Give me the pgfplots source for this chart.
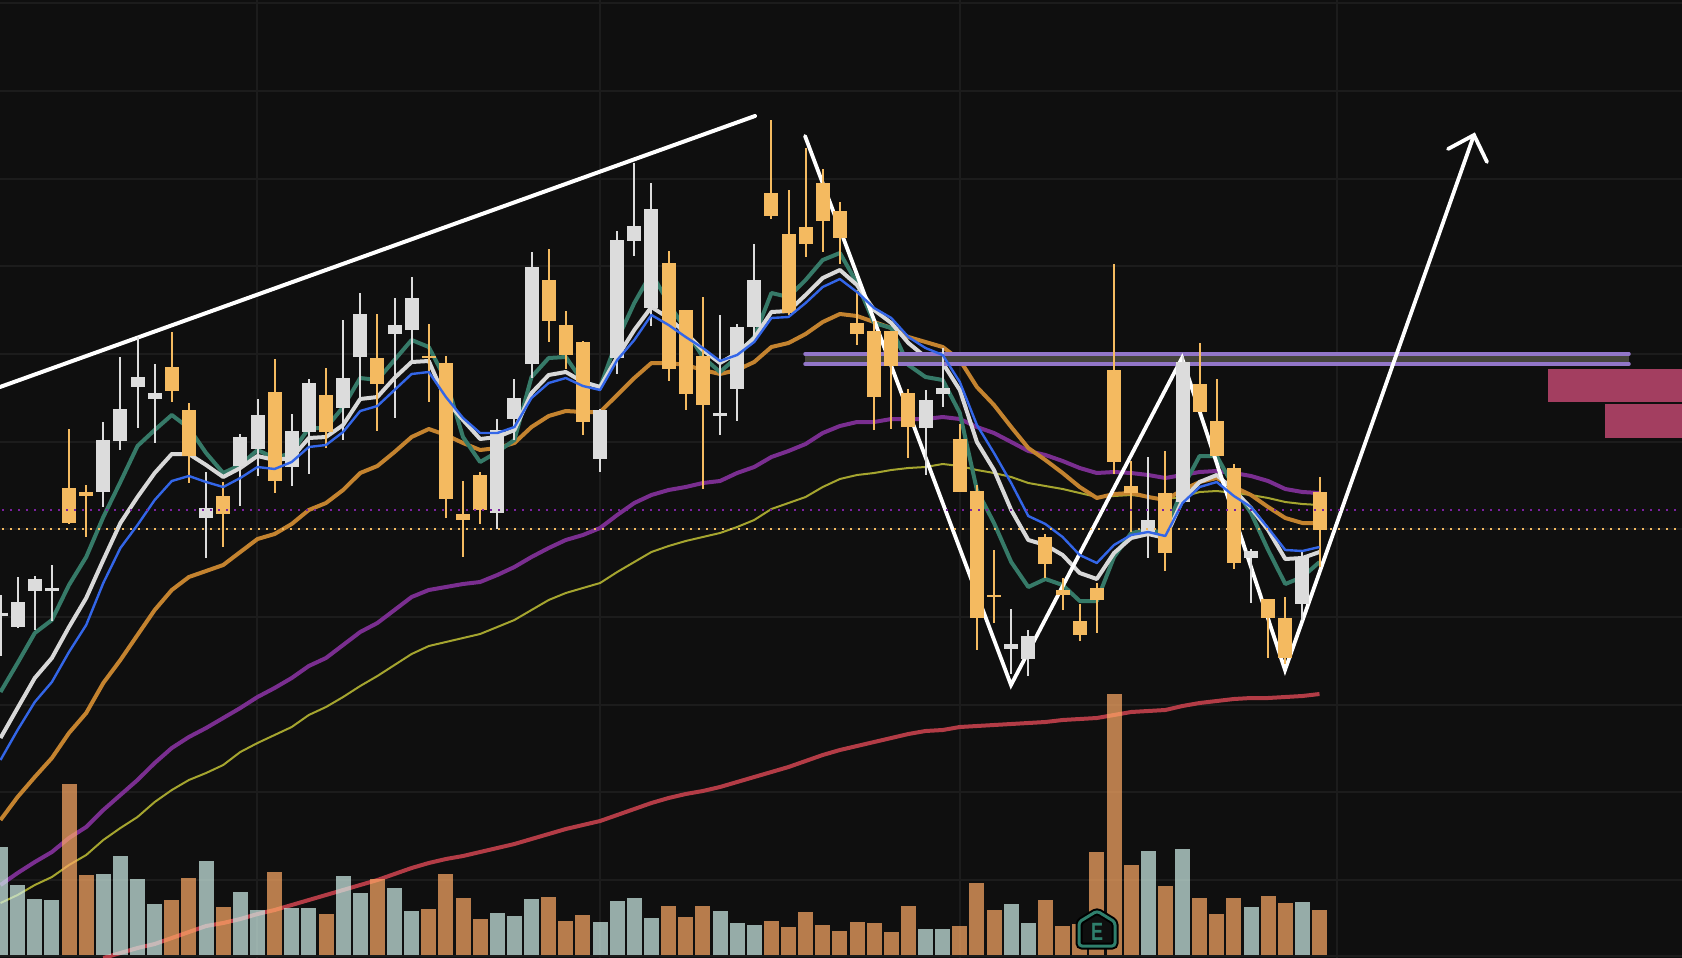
\documentclass[border=0pt]{standalone}
\usepackage{pgfplots}
\usepackage{fontspec}
\setmainfont{Liberation Sans}
\pgfplotsset{compat=1.18}
\usepackage{pgfplotstable}
\definecolor{bg}{HTML}{0F0F0F}
\definecolor{gridc}{HTML}{1C1C1C}
\definecolor{cGray}{HTML}{DCDCDC}
\definecolor{cOrange}{HTML}{F4BA60}
\definecolor{vTeal}{HTML}{D0EFE9}
\definecolor{vOrange}{HTML}{FFAB66}
\definecolor{maGreen}{HTML}{367A68}
\definecolor{maGray}{HTML}{D8D8D8}
\definecolor{maBlue}{HTML}{3366E8}
\definecolor{maOrange}{HTML}{C4832F}
\definecolor{maPurple}{HTML}{7A2E90}
\definecolor{maOlive}{HTML}{A5A52F}
\definecolor{maRed}{HTML}{B33C46}
\definecolor{zoneLine}{HTML}{9276C8}
\definecolor{zoneFill}{HTML}{45443C}
\definecolor{pink}{HTML}{A33E60}
\definecolor{dotP}{HTML}{7B20A0}
\definecolor{eTeal}{HTML}{2F7F6C}

\pgfplotstableread{
x top bot hi lo
0.5 612.5 616 595 656
17.6 602 627 577 628
34.8 579 591 576 630
51.9 587.5 590.5 565 621
103.3 440 492 422 507
120.4 409 441 357 450
137.5 377 387 337 428
154.7 393 399 364 443
206.1 508 518 472 558
240.3 437 466 434 506
257.5 415 449 399 476
291.7 431 467 414 486
308.8 383 432 379 474
343.1 378 408 320 440
360.2 314 357 293 398
394.5 325 334 298 418
411.6 298 330 277 360
497.3 430 513 419 529
514.4 398 419 379 440
531.5 267 364 252 378
600.1 410 459 409 472
617.2 240 358 231 374
634.3 226 241 163 256
651.4 209 308 183 326
720 413 416 315 435
737.1 327 389 324 421
754.2 280 327 244 343
925.5 400 428 390 475
942.7 388 394 348 407
1011.2 644 649 609 674
1028.3 636 659 630 676
1148.2 520 532 457 558
1182.5 362 502 356 502
1251 551 558 549 603
1302.4 557 604 552 620
}\candlesGray

\pgfplotstableread{
x top bot hi lo
69 488 523 429 524
86.2 492 496 485 537
171.8 367 391 332 402
188.9 410 456 403 483
223.2 496 514 482 547
274.6 392 481 359 493
326 395 432 368 448
377.4 358 384 314 431
428.8 356 358 324 402
445.9 363 499 356 518
463 514 520 481 557
480.1 475 510 472 524
548.7 280 321 249 342
565.8 325 355 311 369
582.9 342 422 341 435
668.6 263 369 251 381
685.7 310 394 310 410
702.8 356 405 297 489
771.4 193 216 120 219
788.5 234 313 190 315
805.6 227 244 148 257
822.7 183 221 169 252
839.9 211 238 202 264
857 323 334 290 345
874.1 331 397 321 430
891.3 331 366 331 429
908.4 393 427 389 458
959.8 439 492 424 492
976.9 491 618 485 650
994 595 597 550 623
1045.4 537 564 534 578
1062.6 590 595 578 610
1079.7 621 635 604 641
1096.8 588 600 583 633
1114 370 462 264 474
1131.1 486 493 461 532
1165.3 493 553 451 571
1199.6 384 412 343 412
1216.7 421 456 379 456
1233.9 468 563 464 569
1268.1 599 618 599 658
1285.3 618 658 597 664
1319.5 492 530 477 567
}\candlesOrange

\pgfplotstableread{
x top
0.5 847
17.6 885
34.8 899
51.9 900
103.3 874
120.4 856
137.5 879
154.7 904
206.1 861
240.3 892
257.5 910
291.7 908
308.8 908
343.1 876
360.2 893
394.5 888
411.6 911
497.3 913
514.4 916
531.5 899
600.1 922
617.2 901
634.3 898
651.4 918
720 911
737.1 923
754.2 925
925.5 929
942.7 929
1011.2 904
1028.3 923
1148.2 851
1182.5 849
1251 907
1302.4 902
}\volTeal

\pgfplotstableread{
x top
69 784
86.2 875
171.8 900
188.9 878
223.2 907
274.6 872
326 914
377.4 879
428.8 909
445.9 874
463 898
480.1 919
548.7 897
565.8 921
582.9 915
668.6 906
685.7 917
702.8 906
771.4 921
788.5 927
805.6 912
822.7 925
839.9 931
857 922
874.1 923
891.3 932
908.4 906
959.8 926
976.9 883
994 910
1045.4 900
1062.6 926
1079.7 924
1096.8 852
1114 694
1131.1 865
1165.3 886
1199.6 898
1216.7 914
1233.9 898
1268.1 896
1285.3 903
1319.5 910
}\volOrange

\pgfplotstableread{
x green gray blue orange purple olive red
0.5 692 738 760 820 885 903 nan
17.6 663 708 730 797 873 895 nan
34.8 633 678 702 777 862 885 nan
51.9 620 658 682 758 852 877 nan
69 585 627 652 733 838 865 nan
86.2 557 598 625 713 827 855 nan
103.3 517 560 583 683 810 840 958
120.4 482 523 548 660 795 828 953
137.5 446 497 525 635 780 817 948
154.7 430 473 500 610 763 802 944
171.8 415 454 481 590 748 790 938
188.9 428 454 476 577 737 780 932
206.1 453 465 482 571 728 773 926
223.2 473 477 487 565 718 765 923
240.3 465 468 478 552 708 752 919
257.5 450 456 467 539 697 743 914
274.6 458 460 469 534 688 735 910
291.7 453 458 462 524 678 727 905
308.8 428 438 447 510 666 715 900
326 428 437 445 503 658 707 895
343.1 407 425 432 490 645 697 890
360.2 378 399 411 473 632 686 885
377.4 380 397 406 466 623 676 880
394.5 360 378 390 452 610 665 874
411.6 340 362 374 437 597 654 868
428.8 347 361 372 429 590 646 863
445.9 380 400 397 435 587 642 859
463 437 420 418 443 584 638 856
480.1 462 439 433 450 582 634 852
497.3 452 437 433 448 575 627 848
514.4 440 430 427 443 567 620 844
531.5 377 393 398 427 557 610 839
548.7 358 375 383 416 548 600 834
565.8 357 372 378 411 540 593 829
582.9 382 382 386 412 535 588 825
600.1 387 387 390 412 528 583 821
617.2 340 357 360 395 515 572 815
634.3 303 330 340 378 503 562 809
651.4 273 307 315 363 495 552 803
668.6 303 318 325 363 490 546 798
685.7 330 333 337 365 487 541 794
702.8 357 350 348 370 483 537 791
720 372 363 361 374 481 533 787
737.1 357 353 355 370 473 527 782
754.2 337 338 342 362 467 520 777
771.4 293 312 318 347 457 509 772
788.5 297 311 317 343 451 503 767
805.6 280 295 303 334 444 497 761
822.7 260 278 287 322 433 487 755
839.9 253 270 279 314 426 479 750
857 283 285 292 316 422 475 746
874.1 323 310 308 322 422 473 742
891.3 328 323 318 328 419 470 738
908.4 365 343 337 337 419 468 734
925.5 377 357 348 342 419 467 731
942.7 380 363 355 347 417 464 730
959.8 413 390 382 360 419 466 727
976.9 490 442 425 387 427 470 726
994 523 470 453 405 433 473 725
1011.2 562 510 483 427 442 477 724
1028.3 587 540 516 448 451 483 723
1045.4 579 545 524 460 455 486 722
1062.6 585 555 537 473 461 489 720
1079.7 601 573 555 487 468 493 719
1096.8 601 579 563 498 473 497 718
1114 557 553 545 494 472 496 715
1131.1 533 538 535 493 473 495 712
1148.2 530 534 532 497 475 497 711
1165.3 533 538 536 500 478 499 710
1182.5 488 500 503 490 475 497 706
1199.6 456 482 487 482 472 492 703
1216.7 456 475 482 478 471 491 701
1233.9 487 490 496 487 473 493 699
1251 513 508 507 495 476 495 698
1268.1 550 530 528 507 481 498 698
1285.3 584 559 550 518 489 502 697
1302.4 577 558 551 523 492 504 696
1319.5 562 552 547 523 493 505 694
}\mas

\pgfplotsset{
  candlebody/.style={draw=none, forget plot, error bars/.cd, y dir=plus, y explicit, error mark=none,
     error bar style={draw=#1, line width=14pt}},
  candlewick/.style={draw=none, forget plot, error bars/.cd, y dir=plus, y explicit, error mark=none,
     error bar style={draw=#1, line width=2pt}},
  volbar/.style={draw=none, forget plot, error bars/.cd, y dir=plus, y explicit, error mark=none,
     error bar style={draw=#1, line width=15pt, opacity=.7}},
}

\begin{document}
\begin{tikzpicture}
\begin{axis}[
  scale only axis, width=1682pt, height=958pt,
  xmin=0, xmax=1682, ymin=0, ymax=958, y dir=reverse,
  axis background/.style={fill=bg},
  axis line style={draw=none},
  xtick={257,600,960,1337}, ytick={3,91,179,266,354,442,529,617,705,792,880,956},
  xticklabels={}, yticklabels={},
  tick style={draw=none},
  grid=major, major grid style={draw=gridc, line width=2pt},
]
% moving averages under everything
\addplot[maRed, line width=4pt, line join=round, unbounded coords=jump, forget plot] table[x=x,y=red]{\mas};
\addplot[maOlive, line width=2pt, line join=round, forget plot] table[x=x,y=olive]{\mas};
\addplot[maPurple, line width=4pt, line join=round, forget plot] table[x=x,y=purple]{\mas};
\addplot[maOrange, line width=4pt, line join=round, forget plot] table[x=x,y=orange]{\mas};
\addplot[maGreen, line width=4pt, line join=round, forget plot] table[x=x,y=green]{\mas};
\addplot[maGray, line width=4pt, line join=round, forget plot] table[x=x,y=gray]{\mas};
% volume
\addplot[volbar=vTeal] table[x=x,y=top,y error plus expr=955-\thisrow{top}]{\volTeal};
\addplot[volbar=vOrange] table[x=x,y=top,y error plus expr=955-\thisrow{top}]{\volOrange};
% zone
\addplot[fill=zoneFill, draw=none, forget plot] coordinates {(805,354)(1629,354)(1629,364)(805,364)} --cycle;
\addplot[zoneLine, line width=3.5pt, line cap=round, forget plot] coordinates {(805,354)(1629,354)};
\addplot[zoneLine, line width=3.5pt, line cap=round, forget plot] coordinates {(805,364)(1629,364)};
\addplot[fill=pink, draw=none, forget plot] coordinates {(1548,369)(1682,369)(1682,402)(1548,402)} --cycle;
\addplot[fill=pink, draw=none, forget plot] coordinates {(1605,404)(1682,404)(1682,438)(1605,438)} --cycle;
% drawn lines
\addplot[white, line width=4pt, line cap=round, forget plot] coordinates {(0,387)(755,116)};
\addplot[white, line width=3.8pt, line cap=round, line join=miter, forget plot] coordinates {(805,136)(1011,685)(1182,358)(1285,670)(1474,135)};
\addplot[white, line width=3.8pt, line cap=round, line join=miter, forget plot] coordinates {(1448,149)(1474,135)(1487,162)};
% candles
\addplot[candlewick=cGray] table[x=x,y=hi,y error plus expr=\thisrow{lo}-\thisrow{hi}]{\candlesGray};
\addplot[candlebody=cGray] table[x=x,y=top,y error plus expr=\thisrow{bot}-\thisrow{top}]{\candlesGray};
\addplot[candlewick=cOrange] table[x=x,y=hi,y error plus expr=\thisrow{lo}-\thisrow{hi}]{\candlesOrange};
\addplot[candlebody=cOrange] table[x=x,y=top,y error plus expr=\thisrow{bot}-\thisrow{top}]{\candlesOrange};
% blue MA above the candles
\addplot[maBlue, line width=2.4pt, line join=round, forget plot] table[x=x,y=blue]{\mas};
% dotted levels
\addplot[dotP, line width=2pt, dash pattern=on 2pt off 6pt, forget plot] coordinates {(2,510)(1682,510)};
\addplot[cOrange, line width=2pt, dash pattern=on 2pt off 6pt, forget plot] coordinates {(2,529)(1682,529)};
% earnings marker
\addplot[fill=bg, draw=black, line width=7pt, rounded corners=3pt, forget plot] coordinates {(1097,911)(1115,922)(1115,946)(1079,946)(1079,922)} --cycle;
\addplot[draw=eTeal, line width=3pt, rounded corners=3pt, forget plot] coordinates {(1097,911)(1115,922)(1115,946)(1079,946)(1079,922)} --cycle;
\node[text=eTeal, inner sep=0pt, font=\fontsize{25}{25}\selectfont\bfseries] at (axis cs:1097,932) {\scalebox{.72}[1]{E}};
\end{axis}
\pgfresetboundingbox
\path[use as bounding box] (current axis.south west) rectangle (current axis.north east);
\end{tikzpicture}
\end{document}
